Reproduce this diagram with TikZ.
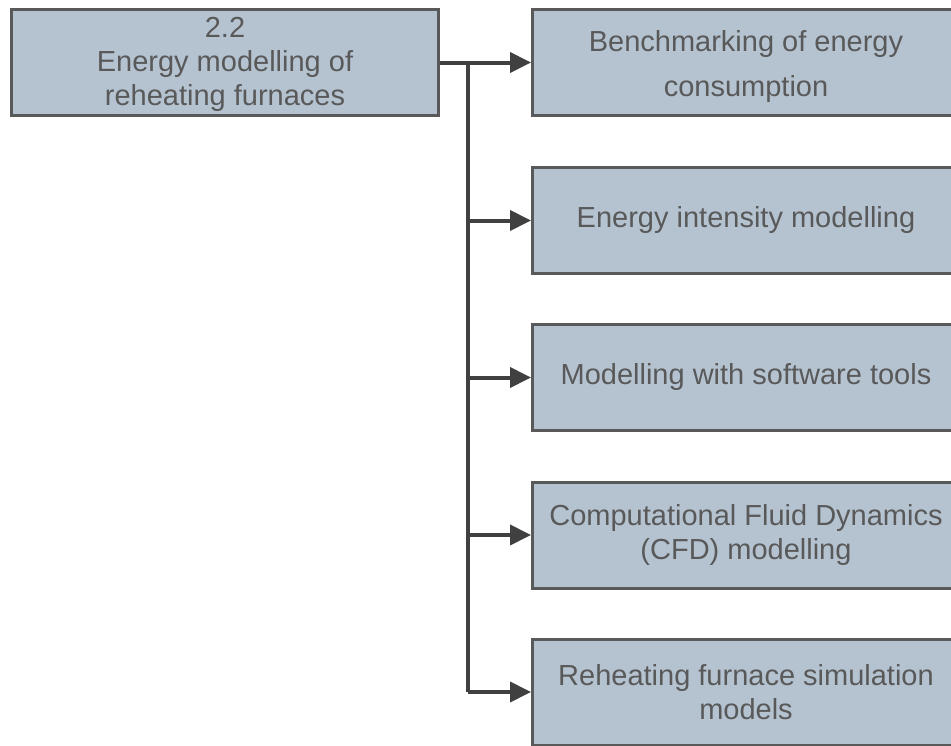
\documentclass[tikz,border=0pt]{standalone}
\usepackage{fontspec}
\setmainfont{Liberation Sans}
\usetikzlibrary{arrows.meta}
\definecolor{boxfill}{HTML}{B5C3D1}
\definecolor{boxline}{HTML}{595959}
\definecolor{txt}{HTML}{595959}
\definecolor{arr}{HTML}{404040}
\tikzset{
  topic/.style={draw=boxline, fill=boxfill, line width=2.25pt, text=txt,
    minimum width=320.25pt, minimum height=79.5pt, inner sep=0pt, align=center,
    font=\fontsize{21.75}{25.5}\selectfont},
  conn/.style={draw=arr, line width=3pt, -{Triangle[length=15.75pt,width=15pt]}},
  trunk/.style={draw=arr, line width=3pt}
}
\begin{document}
\begin{tikzpicture}[x=0.75pt,y=-0.75pt]
\useasboundingbox (0,0) rectangle (951,746);
\clip (0,0) rectangle (951,746);
\node[topic] (top) at (225,62.5) {\parbox{320pt}{\centering\vspace*{3pt}2.2\\Energy modelling of\\reheating furnaces}};
\node[topic, font=\fontsize{21.75}{33.75}\selectfont] (b1) at (746,62.5) {\parbox{320pt}{\centering\vspace*{6pt}Benchmarking of energy\\consumption}};
\node[topic] (b2) at (746,220.5) {Energy intensity modelling};
\node[topic] (b3) at (746,377.5) {Modelling with software tools};
\node[topic] (b4) at (746,535) {Computational Fluid Dynamics\\(CFD) modelling};
\node[topic] (b5) at (746,692) {Reheating furnace simulation\\models};
\coordinate (j) at (468,62.5);
\draw[trunk] (top.east) -- (j);
\draw[conn] (j) -- (b1.west);
\draw[trunk] (j) -- (j |- b5.west);
\draw[conn] (j |- b2.west) -- (b2.west);
\draw[conn] (j |- b3.west) -- (b3.west);
\draw[conn] (j |- b4.west) -- (b4.west);
\draw[conn] (j |- b5.west) -- (b5.west);
\end{tikzpicture}
\end{document}
